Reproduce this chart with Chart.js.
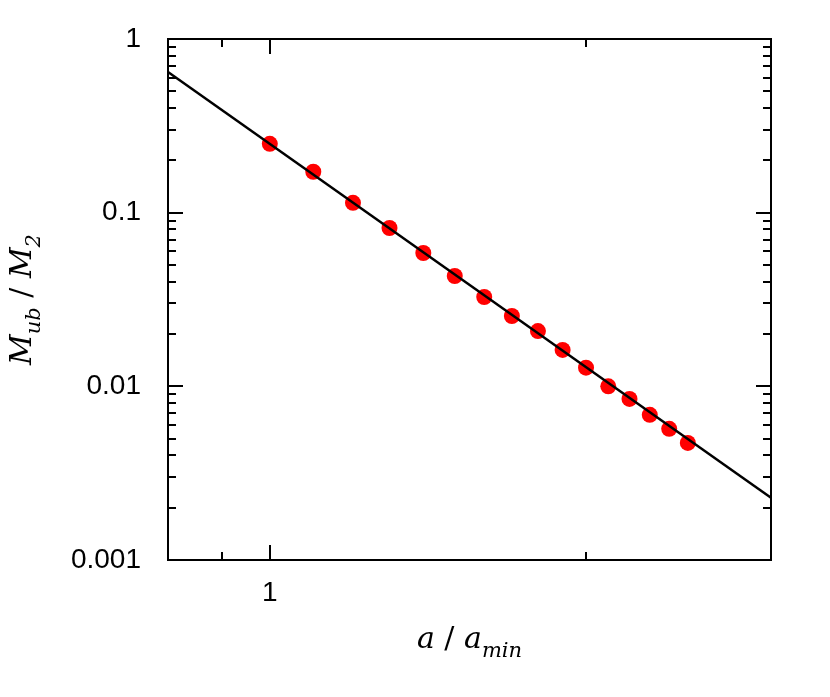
<!DOCTYPE html>
<html>
<head>
<meta charset="utf-8">
<script src="https://cdn.jsdelivr.net/npm/chart.js@4/dist/chart.umd.min.js"></script>
<style>
  html, body { margin: 0; padding: 0; background: #fff; }
  #chart { display: block; }
</style>
</head>
<body>
<canvas id="chart" width="830" height="697"></canvas>
<script>
// separation a/a_min
const ratio = [1.0, 1.1, 1.2, 1.3, 1.4, 1.5, 1.6, 1.7, 1.8, 1.9, 2.0, 2.1, 2.2, 2.3, 2.4, 2.5];
// M_ub/M_2
const massRatio = [0.249, 0.172, 0.114, 0.0816, 0.0586, 0.0432, 0.0327, 0.0254, 0.0208,
  0.0162, 0.0128, 0.0100, 0.00846, 0.00685, 0.00569, 0.00472];
// fitted power law, end points
const fitX = [0.8, 3.0];
const fitY = [0.645, 0.00228];

const xMajor = [1];
const xMinor = [0.9, 2];
const yMajor = [1, 0.1, 0.01, 0.001];
const yMinor = [];
[0.001, 0.01, 0.1].forEach((d) => {
  for (let k = 2; k <= 9; k++) yMinor.push(k * d);
});

const tickFont = { family: "'Liberation Sans', Arial, sans-serif", size: 28 };
const mathFont = "'DejaVu Serif', 'Liberation Serif', serif";

// draw a piece list like [["M",0],["ub",1]] (1 = subscript)
const drawPieces = (ctx, pieces, size) => {
  const big = "italic " + size + "px " + mathFont;
  const small = "italic " + Math.round(size * 0.7) + "px " + mathFont;
  const widthOf = (p) => {
    ctx.font = p[1] ? small : (p[2] ? size + "px " + mathFont : big);
    return ctx.measureText(p[0]).width;
  };
  const total = pieces.reduce((s, p) => s + widthOf(p), 0);
  let x = -total / 2;
  pieces.forEach((p) => {
    const w = widthOf(p);
    ctx.fillText(p[0], x, p[1] ? size * 0.3 : 0);
    x += w;
  });
};

const framePlugin = {
  id: "frame",
  afterDraw(chart) {
    const { ctx, chartArea: a, scales } = chart;
    ctx.save();
    ctx.strokeStyle = "#000";
    ctx.lineWidth = 2;
    ctx.strokeRect(a.left, a.top, a.right - a.left, a.bottom - a.top);

    const xTick = (v, len) => {
      const px = Math.round(scales.x.getPixelForValue(v));
      ctx.beginPath();
      ctx.moveTo(px, a.bottom); ctx.lineTo(px, a.bottom - len);
      ctx.moveTo(px, a.top); ctx.lineTo(px, a.top + len);
      ctx.stroke();
    };
    const yTick = (v, len) => {
      const py = Math.round(scales.y.getPixelForValue(v));
      ctx.beginPath();
      ctx.moveTo(a.left, py); ctx.lineTo(a.left + len, py);
      ctx.moveTo(a.right, py); ctx.lineTo(a.right - len, py);
      ctx.stroke();
    };
    xMajor.forEach((v) => xTick(v, 15));
    xMinor.forEach((v) => xTick(v, 8));
    yMajor.forEach((v) => yTick(v, 15));
    yMinor.forEach((v) => yTick(v, 8));

    // axis titles
    ctx.fillStyle = "#000";
    ctx.textBaseline = "alphabetic";
    ctx.save();
    ctx.translate((a.left + a.right) / 2, 648);
    drawPieces(ctx, [["a", 0], [" / ", 0, true], ["a", 0], ["min", 1]], 30);
    ctx.restore();

    ctx.save();
    ctx.translate(31, (a.top + a.bottom) / 2);
    ctx.rotate(-Math.PI / 2);
    drawPieces(ctx, [["M", 0], ["ub", 1], [" / ", 0, true], ["M", 0], ["2", 1]], 30);
    ctx.restore();
    ctx.restore();
  },
};

new Chart(document.getElementById("chart"), {
  type: "scatter",
  data: {
    datasets: [
      {
        data: fitX.map((x, i) => ({ x, y: fitY[i] })),
        showLine: true,
        borderColor: "#000",
        borderWidth: 2.5,
        pointRadius: 0,
      },
      {
        data: ratio.map((x, i) => ({ x, y: massRatio[i] })),
        backgroundColor: "rgb(255, 0, 0)",
        borderWidth: 0,
        pointRadius: 8,
      },
    ],
  },
  options: {
    responsive: false,
    animation: false,
    layout: { padding: { top: 39, right: 59, left: 0, bottom: 0 } },
    plugins: {
      legend: { display: false },
      tooltip: { enabled: false },
    },
    scales: {
      x: {
        type: "logarithmic",
        min: 0.8,
        max: 3,
        border: { display: false },
        grid: { display: false, drawTicks: false },
        afterBuildTicks: (scale) => {
          scale.ticks = xMajor.map((value) => ({ value }));
        },
        afterFit: (scale) => {
          scale.height = 697 - 560;
          scale.paddingLeft = 0;
          scale.paddingRight = 0;
        },
        ticks: {
          color: "#000",
          font: tickFont,
          padding: 16,
          maxRotation: 0,
          autoSkip: false,
          callback: (v) => String(v),
        },
      },
      y: {
        type: "logarithmic",
        min: 0.001,
        max: 1,
        border: { display: false },
        grid: { display: false, drawTicks: false },
        afterBuildTicks: (scale) => {
          scale.ticks = yMajor.map((value) => ({ value }));
        },
        afterFit: (scale) => {
          scale.width = 168;
          scale.paddingTop = 0;
          scale.paddingBottom = 0;
        },
        ticks: {
          color: "#000",
          font: tickFont,
          padding: 27,
          autoSkip: false,
          callback: (v) => String(v),
        },
      },
    },
  },
  plugins: [framePlugin],
});
</script>
</body>
</html>
